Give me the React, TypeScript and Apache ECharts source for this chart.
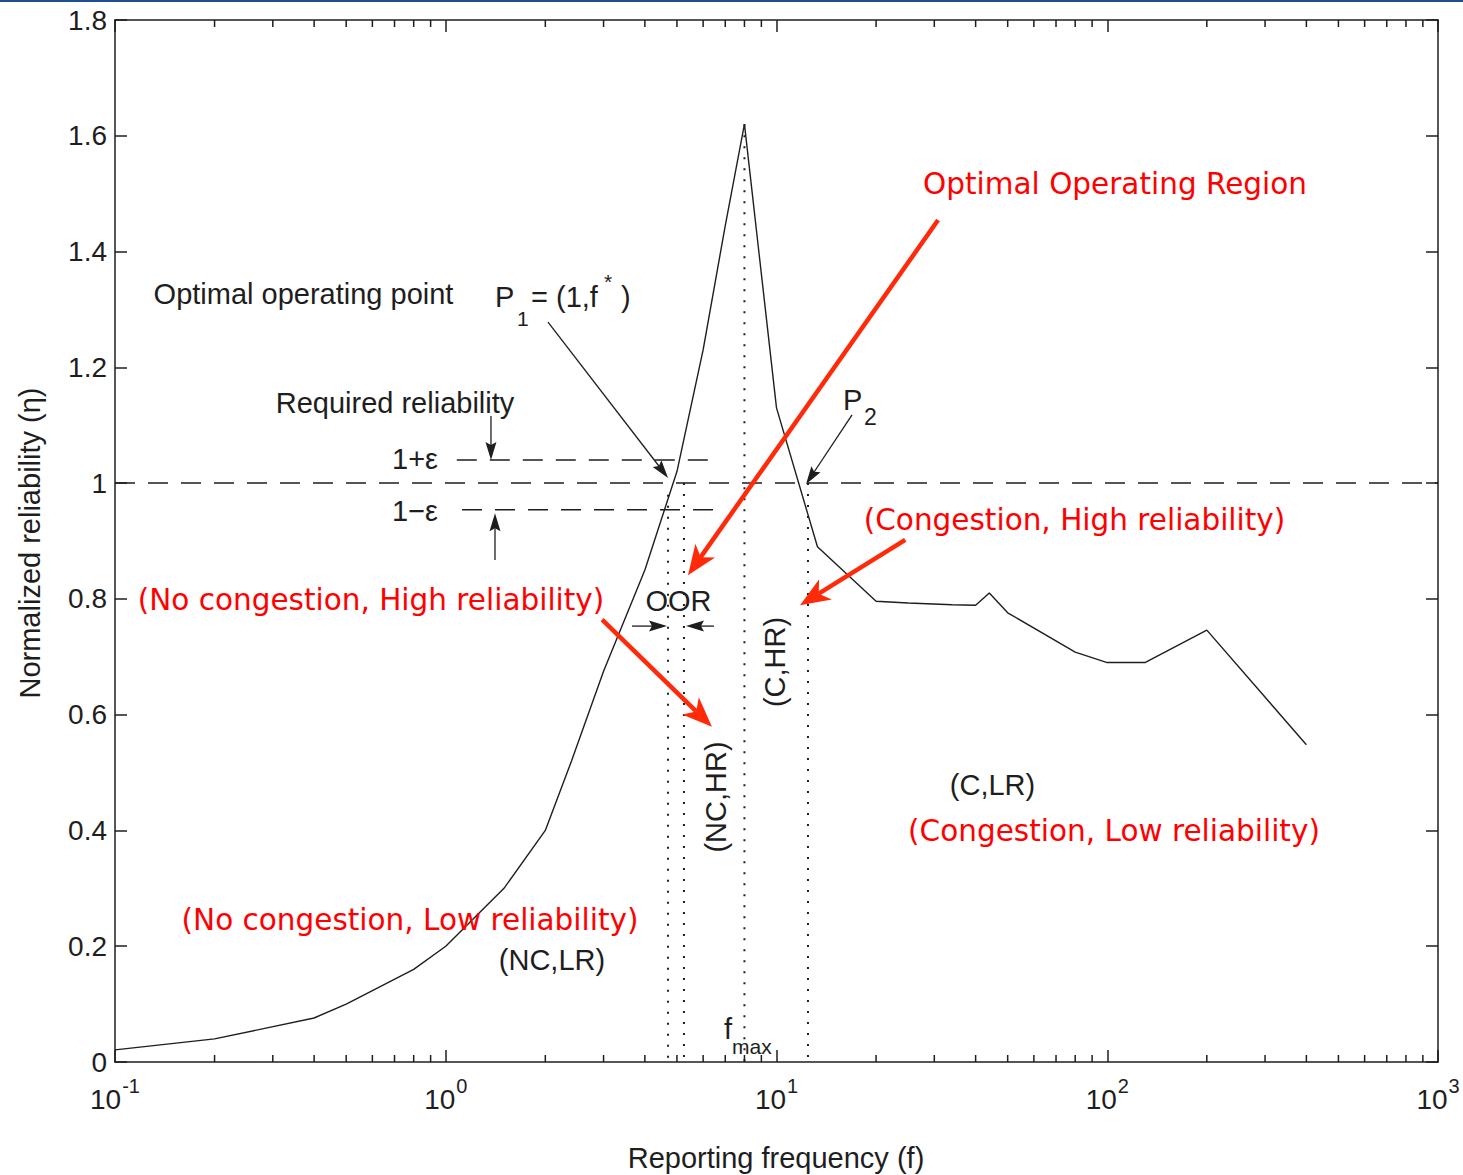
import React, { useEffect, useRef } from 'react';
import * as echarts from 'echarts';

// Reporting frequency (f) and normalized reliability (eta) of the curve
const freq = [0.1, 0.2, 0.4, 0.5, 0.8, 1, 1.5, 2, 2.4, 3, 4, 5, 6, 7, 8, 10, 13.3, 20, 25, 34, 40, 44, 50, 80, 100, 130, 200, 400];
const reliability = [0.021, 0.04, 0.076, 0.1, 0.16, 0.2, 0.3, 0.4, 0.52, 0.675, 0.85, 1.02, 1.23, 1.445, 1.62, 1.13, 0.89, 0.796, 0.793, 0.79, 0.789, 0.81, 0.776, 0.708, 0.69, 0.69, 0.746, 0.548];

// reference levels
const unityLevel = 1.0;
const epsUpper = 1.04;
const epsLower = 0.954;
const epsUpperRange = [1.08, 6.65];
const epsLowerRange = [1.12, 6.99];

// vertical dotted markers: frequency and top reliability
const markerFreq = [4.7, 5.25, 8.0, 12.45];
const markerTop = [0.98, 1.0, 1.62, 1.0];

// axis ranges
const xMin = 0.1;
const xMax = 1000;
const yMin = 0;
const yMax = 1.8;
const yStep = 0.2;
const minorMultipliers = [2, 3, 4, 5, 6, 7, 8, 9];
const decades = [0.1, 1, 10, 100];

// annotation arrows [f1, eta1, f2, eta2, kind]  kind 0 = thin black, 1 = red
const arrows = [
  [2.038, 1.278, 4.7, 1.009, 0],
  [16.92, 1.118, 12.28, 0.998, 0],
  [1.37, 1.116, 1.37, 1.04, 0],
  [1.409, 0.867, 1.409, 0.948, 0],
  [3.657, 0.753, 4.666, 0.753, 0],
  [6.47, 0.753, 5.325, 0.753, 0],
  [30.8, 1.4545, 5.4, 0.841, 1],
  [24.5, 0.902, 11.78, 0.789, 1],
  [2.97, 0.764, 6.38, 0.579, 1],
];

const BLACK_FONT = 'Liberation Sans, Arial, sans-serif';
const RED_FONT = 'DejaVu Sans, sans-serif';
const INK = '#1e1e1e';
const RED = '#ff0000';
const RED_ARROW = '#ff2a0a';

function blackText(text: string, x: number, y: number, opts: any = {}) {
  return {
    type: 'text',
    x,
    y,
    rotation: opts.rotation || 0,
    style: {
      text,
      fontFamily: BLACK_FONT,
      fontSize: opts.fontSize || 29,
      fill: INK,
      align: opts.align || 'center',
      verticalAlign: 'middle',
    },
    z: 20,
  };
}

function redText(text: string, x: number, y: number) {
  return {
    type: 'text',
    x,
    y,
    style: {
      text,
      fontFamily: RED_FONT,
      fontSize: 29.5,
      fill: RED,
      align: 'center',
      verticalAlign: 'middle',
    },
    z: 20,
  };
}

export default function App() {
  const ref = useRef<HTMLDivElement>(null);

  useEffect(() => {
    const chart = echarts.init(ref.current!, null, { renderer: 'svg' });

    const curve = freq.map((f, i) => [f, reliability[i]]);
    const minorTicks: number[][] = [];
    decades.forEach((d) => minorMultipliers.forEach((m) => minorTicks.push([d * m, 0])));

    const dashedStyle = { color: INK, width: 1.5, type: [20, 13] as any };
    const dottedStyle = { color: INK, width: 2, type: [2, 9] as any };

    const markerSeries = markerFreq.map((f, i) => ({
      type: 'line',
      data: [[f, markerTop[i]], [f, 0]],
      showSymbol: false,
      symbol: 'none',
      lineStyle: dottedStyle,
      silent: true,
      z: 3,
    }));

    const option: any = {
      animation: false,
      backgroundColor: '#ffffff',
      grid: { left: 115, top: 20, right: 25, bottom: 113, containLabel: false },
      xAxis: [
        {
          type: 'log',
          logBase: 10,
          min: xMin,
          max: xMax,
          position: 'bottom',
          axisLine: { show: true, onZero: false, lineStyle: { color: INK, width: 1.5 } },
          axisTick: { show: true, inside: true, length: 12, lineStyle: { color: INK, width: 1.5 } },
          splitLine: { show: false },
          axisLabel: {
            show: true,
            margin: 14,
            showMinLabel: true,
            showMaxLabel: true,
            formatter: (v: number) => `{b|10}{s|${Math.round(Math.log10(v))}}`,
            rich: {
              b: { fontSize: 28, fontFamily: BLACK_FONT, color: INK },
              s: { fontSize: 20, fontFamily: BLACK_FONT, color: INK, padding: [0, 0, 26, 1] },
            },
          },
        },
        {
          type: 'log',
          logBase: 10,
          min: xMin,
          max: xMax,
          position: 'top',
          axisLine: { show: true, onZero: false, lineStyle: { color: INK, width: 1.5 } },
          axisTick: { show: true, inside: true, length: 12, lineStyle: { color: INK, width: 1.5 } },
          splitLine: { show: false },
          axisLabel: { show: false },
        },
      ],
      yAxis: [
        {
          type: 'value',
          min: yMin,
          max: yMax,
          interval: yStep,
          position: 'left',
          axisLine: { show: true, onZero: false, lineStyle: { color: INK, width: 1.5 } },
          axisTick: { show: true, inside: true, length: 12, lineStyle: { color: INK, width: 1.5 } },
          splitLine: { show: false },
          axisLabel: { show: true, margin: 8, fontSize: 28, fontFamily: BLACK_FONT, color: INK },
        },
        {
          type: 'value',
          min: yMin,
          max: yMax,
          interval: yStep,
          position: 'right',
          axisLine: { show: true, onZero: false, lineStyle: { color: INK, width: 1.5 } },
          axisTick: { show: true, inside: true, length: 12, lineStyle: { color: INK, width: 1.5 } },
          splitLine: { show: false },
          axisLabel: { show: false },
        },
      ],
      series: [
        {
          type: 'line',
          name: 'reliability',
          data: curve,
          showSymbol: false,
          symbol: 'none',
          lineStyle: { color: INK, width: 1.4 },
          z: 5,
        },
        {
          type: 'line',
          data: [[xMin, unityLevel], [xMax, unityLevel]],
          showSymbol: false,
          symbol: 'none',
          lineStyle: dashedStyle,
          z: 4,
        },
        {
          type: 'line',
          data: [[epsUpperRange[0], epsUpper], [epsUpperRange[1], epsUpper]],
          showSymbol: false,
          symbol: 'none',
          lineStyle: dashedStyle,
          z: 4,
        },
        {
          type: 'line',
          data: [[epsLowerRange[0], epsLower], [epsLowerRange[1], epsLower]],
          showSymbol: false,
          symbol: 'none',
          lineStyle: dashedStyle,
          z: 4,
        },
        ...markerSeries,
        {
          type: 'custom',
          data: minorTicks,
          encode: { x: 0, y: 1 },
          silent: true,
          clip: false,
          renderItem: (params: any, api: any) => {
            const f = api.value(0);
            const b = api.coord([f, yMin]);
            const t = api.coord([f, yMax]);
            const st = { stroke: INK, lineWidth: 1.5 };
            return {
              type: 'group',
              children: [
                { type: 'line', shape: { x1: b[0], y1: b[1], x2: b[0], y2: b[1] - 7 }, style: st },
                { type: 'line', shape: { x1: t[0], y1: t[1], x2: t[0], y2: t[1] + 7 }, style: st },
              ],
            };
          },
          z: 6,
        },
        {
          type: 'custom',
          data: arrows,
          encode: { x: [0, 2], y: [1, 3] },
          silent: true,
          clip: false,
          renderItem: (params: any, api: any) => {
            const p1 = api.coord([api.value(0), api.value(1)]);
            const p2 = api.coord([api.value(2), api.value(3)]);
            const kind = api.value(4);
            const red = kind === 1;
            const color = red ? RED_ARROW : INK;
            const L = red ? 30 : 18;
            const W = red ? 12 : 5.5;
            const N = red ? 8 : 3;
            const lw = red ? 4.5 : 1.3;
            const dx = p2[0] - p1[0];
            const dy = p2[1] - p1[1];
            const len = Math.hypot(dx, dy) || 1;
            const ux = dx / len;
            const uy = dy / len;
            const nx = -uy;
            const ny = ux;
            const base = [p2[0] - ux * L, p2[1] - uy * L];
            const notch = [p2[0] - ux * (L - N), p2[1] - uy * (L - N)];
            const left = [base[0] + nx * W, base[1] + ny * W];
            const right = [base[0] - nx * W, base[1] - ny * W];
            return {
              type: 'group',
              children: [
                { type: 'line', shape: { x1: p1[0], y1: p1[1], x2: notch[0], y2: notch[1] }, style: { stroke: color, lineWidth: lw } },
                { type: 'polygon', shape: { points: [p2, left, notch, right] }, style: { fill: color } },
              ],
            };
          },
          z: 10,
        },
      ],
      graphic: [
        { type: 'rect', left: 0, top: 0, shape: { width: 1463, height: 2 }, style: { fill: '#1f4f8f' }, z: 30 },
        // axis titles
        blackText('Reporting frequency (f)', 776, 1158),
        blackText('Normalized reliability (\u03b7)', 30, 543, { rotation: Math.PI / 2 }),
        // black annotations
        blackText('Optimal operating point', 303.5, 294),
        blackText('P', 495, 297, { align: 'left' }),
        blackText('1', 517, 318, { align: 'left', fontSize: 21 }),
        blackText('= (1,f', 531, 297, { align: 'left' }),
        blackText('*', 604, 281, { align: 'left', fontSize: 21 }),
        blackText(')', 621, 297, { align: 'left' }),
        blackText('Required reliability', 395, 403),
        blackText('1+\u03b5', 415, 459),
        blackText('1\u2212\u03b5', 415, 511),
        blackText('P', 843, 400, { align: 'left' }),
        blackText('2', 864, 417, { align: 'left', fontSize: 23 }),
        blackText('OOR', 678.5, 601),
        blackText('(C,HR)', 775, 662, { rotation: Math.PI / 2 }),
        blackText('(NC,HR)', 716, 797, { rotation: Math.PI / 2 }),
        blackText('(C,LR)', 992.5, 785),
        blackText('(NC,LR)', 552, 960),
        blackText('f', 724, 1029, { align: 'left' }),
        blackText('max', 732, 1046, { align: 'left', fontSize: 21 }),
        // red annotations
        redText('Optimal Operating Region', 1115, 184),
        redText('(Congestion, High reliability)', 1074.5, 520),
        redText('(No congestion, High reliability)', 371, 600),
        redText('(Congestion, Low reliability)', 1114, 831),
        redText('(No congestion, Low reliability)', 410, 920),
      ],
    };

    chart.setOption(option);
    return () => chart.dispose();
  }, []);

  return (
    <div
      ref={ref}
      style={{ position: 'fixed', left: 0, top: 0, width: 1463, height: 1175, background: '#ffffff' }}
    />
  );
}
